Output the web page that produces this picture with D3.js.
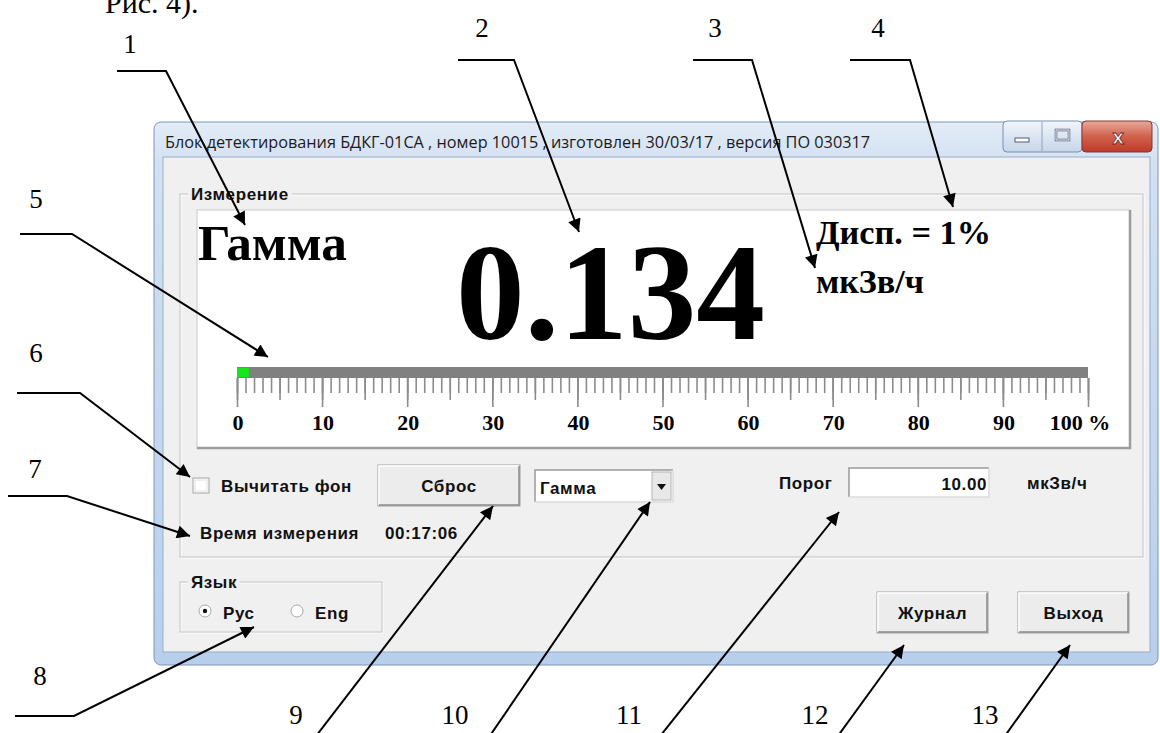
<!DOCTYPE html>
<html>
<head>
<meta charset="utf-8">
<script src="https://cdn.jsdelivr.net/npm/d3@7/dist/d3.min.js"></script>
<style>
  html, body { margin: 0; padding: 0; background: #fff; }
  svg { display: block; }
</style>
</head>
<body>
<div id="chart"></div>
<script>
// values
const windowTitle = "Блок детектирования БДКГ-01СА , номер 10015 , изготовлен 30/03/17 , версия ПО 030317";
const modeName = "Гамма";
const doseValue = "0.134";
const doseUnit = "мкЗв/ч";
const dispersionText = "Дисп. = 1%";
const levelPercent = 1.4;
const scaleMajor = [0, 10, 20, 30, 40, 50, 60, 70, 80, 90, 100];
const scaleLabels = ["0", "10", "20", "30", "40", "50", "60", "70", "80", "90", "100 %"];
const thresholdValue = "10.00";
const elapsedTime = "00:17:06";
const calloutNumbers = ["1", "2", "3", "4", "5", "6", "7", "8", "9", "10", "11", "12", "13"];

const W = 1160, H = 733;
const serif = "'Liberation Serif', 'Times New Roman', serif";
const sans = "'Liberation Sans', Arial, sans-serif";
const ctrlSize = 17, ctrlSpacing = 0.6;

let svg = d3.select("#chart").append("svg")
    .attr("width", W).attr("height", H);

let defs = svg.append("defs");
let frameGrad = defs.append("linearGradient").attr("id", "frame").attr("x1", 0).attr("y1", 0).attr("x2", 0).attr("y2", 1);
frameGrad.append("stop").attr("offset", "0").attr("stop-color", "#e3ecf7");
frameGrad.append("stop").attr("offset", "0.08").attr("stop-color", "#d2e0f2");
frameGrad.append("stop").attr("offset", "1").attr("stop-color", "#b8cfeb");
let btnGrad = defs.append("linearGradient").attr("id", "capbtn").attr("x1", 0).attr("y1", 0).attr("x2", 0).attr("y2", 1);
btnGrad.append("stop").attr("offset", "0").attr("stop-color", "#f2f6fb");
btnGrad.append("stop").attr("offset", "0.5").attr("stop-color", "#dbe5f2");
btnGrad.append("stop").attr("offset", "1").attr("stop-color", "#c6d5ea");
let closeGrad = defs.append("linearGradient").attr("id", "closebtn").attr("x1", 0).attr("y1", 0).attr("x2", 0).attr("y2", 1);
closeGrad.append("stop").attr("offset", "0").attr("stop-color", "#e9a99b");
closeGrad.append("stop").attr("offset", "0.5").attr("stop-color", "#d0614c");
closeGrad.append("stop").attr("offset", "1").attr("stop-color", "#c0392b");
defs.append("marker").attr("id", "arrow")
    .attr("viewBox", "0 0 10 10").attr("refX", 10).attr("refY", 5)
    .attr("markerUnits", "userSpaceOnUse")
    .attr("markerWidth", 17).attr("markerHeight", 13)
    .attr("orient", "auto")
  .append("path").attr("d", "M0,0 L10,5 L0,10 Z").attr("fill", "#000");

svg.append("rect").attr("width", W).attr("height", H).attr("fill", "#fff");

// caption of the document above the screenshot
svg.append("text").attr("x", 105).attr("y", 13)
    .attr("font-family", serif).attr("font-size", 30)
    .text("Рис. 4).");

// ---- helpers ----
function fitWidth(sel, target) {
    let node = sel.node();
    let len = node.getComputedTextLength();
    let fs = parseFloat(sel.attr("font-size"));
    if (len > 0) sel.attr("font-size", (fs * target / len).toFixed(2));
}

function ctrlText(g, x, y, str, anchor) {
    return g.append("text").attr("x", x).attr("y", y).attr("text-anchor", anchor || "start")
        .attr("font-family", sans).attr("font-weight", "bold").attr("font-size", ctrlSize)
        .attr("letter-spacing", ctrlSpacing).attr("fill", "#111")
        .text(str);
}

function groupBox(g, x, y, w, h, label) {
    g.append("rect").attr("x", x + 1).attr("y", y + 1).attr("width", w).attr("height", h)
        .attr("fill", "none").attr("stroke", "#fff");
    g.append("rect").attr("x", x).attr("y", y).attr("width", w).attr("height", h)
        .attr("fill", "none").attr("stroke", "#c4c4c4");
    let bg = g.append("rect").attr("x", x + 8).attr("y", y - 9).attr("height", 18)
        .attr("fill", "#f0f0f0");
    let t = ctrlText(g, x + 11, y + 6, label);
    bg.attr("width", t.node().getComputedTextLength() + 6);
}

function button(g, x, y, w, h, label) {
    g.append("rect").attr("x", x).attr("y", y).attr("width", w).attr("height", h)
        .attr("fill", "#ececec").attr("stroke", "#a0a0a0");
    g.append("path").attr("d", `M${x + 1},${y + h - 1} V${y + 1} H${x + w - 1}`)
        .attr("fill", "none").attr("stroke", "#fff").attr("stroke-width", 1.5);
    g.append("path").attr("d", `M${x + 1},${y + h - 1} H${x + w - 1} V${y + 1}`)
        .attr("fill", "none").attr("stroke", "#8a8a8a").attr("stroke-width", 1.5);
    ctrlText(g, x + w / 2, y + h / 2 + 6, label, "middle");
}

function sunken(g, x, y, w, h) {
    g.append("rect").attr("x", x).attr("y", y).attr("width", w).attr("height", h).attr("fill", "#fff");
    g.append("path").attr("d", `M${x},${y + h} V${y} H${x + w}`)
        .attr("fill", "none").attr("stroke", "#9a9a9a").attr("stroke-width", 1.5);
    g.append("path").attr("d", `M${x},${y + h} H${x + w} V${y}`)
        .attr("fill", "none").attr("stroke", "#dcdcdc").attr("stroke-width", 1.5);
}

// ---- window frame ----
let win = svg.append("g");
win.append("rect").attr("x", 154).attr("y", 122).attr("width", 1004).attr("height", 543)
    .attr("rx", 7).attr("fill", "url(#frame)").attr("stroke", "#7d97b8");
win.append("rect").attr("x", 163).attr("y", 157).attr("width", 987).attr("height", 495)
    .attr("fill", "#f0f0f0").attr("stroke", "#97add0");

win.append("text").attr("x", 165).attr("y", 148)
    .attr("font-family", "'Open Sans', 'DejaVu Sans', sans-serif").attr("font-size", 14)
    .attr("fill", "#1b1b1b")
    .text(windowTitle)
    .call(fitWidth, 705);

// caption buttons
let caps = win.append("g");
caps.append("rect").attr("x", 1003).attr("y", 121).attr("width", 79).attr("height", 31).attr("rx", 4)
    .attr("fill", "url(#capbtn)").attr("stroke", "#7a8fae");
caps.append("line").attr("x1", 1042).attr("x2", 1042).attr("y1", 122).attr("y2", 151).attr("stroke", "#8da2bf");
caps.append("rect").attr("x", 1082).attr("y", 121).attr("width", 70).attr("height", 31).attr("rx", 4)
    .attr("fill", "url(#closebtn)").attr("stroke", "#7c3b31");
caps.append("rect").attr("x", 1015).attr("y", 138).attr("width", 14).attr("height", 4)
    .attr("fill", "#fff").attr("stroke", "#4d5d78");
caps.append("rect").attr("x", 1056).attr("y", 130).attr("width", 13).attr("height", 10)
    .attr("fill", "none").attr("stroke", "#4d5d78").attr("stroke-width", 2.5);
caps.append("rect").attr("x", 1056).attr("y", 130).attr("width", 13).attr("height", 10)
    .attr("fill", "none").attr("stroke", "#fff").attr("stroke-width", 1);
caps.append("text").attr("x", 1118).attr("y", 144).attr("text-anchor", "middle")
    .attr("font-family", sans).attr("font-weight", "bold").attr("font-size", 21)
    .attr("fill", "#fff").attr("stroke", "#6a2a22").attr("stroke-width", 0.8)
    .text("x");

// ---- measurement group ----
let meas = svg.append("g");
groupBox(meas, 180, 194, 963, 363, "Измерение");

// display panel
meas.append("rect").attr("x", 197).attr("y", 210).attr("width", 933).attr("height", 238)
    .attr("fill", "#fff").attr("stroke", "#c8c8c8");
meas.append("path").attr("d", "M197,448 H1130 V210")
    .attr("fill", "none").attr("stroke", "#9c9c9c").attr("stroke-width", 2.5);

meas.append("text").attr("x", 198).attr("y", 260)
    .attr("font-family", serif).attr("font-weight", "bold").attr("font-size", 50)
    .text(modeName).call(fitWidth, 149);
meas.append("text").attr("x", 456).attr("y", 339)
    .attr("font-family", serif).attr("font-weight", "bold").attr("font-size", 138)
    .text(doseValue).call(fitWidth, 309);
meas.append("text").attr("x", 816).attr("y", 244)
    .attr("font-family", serif).attr("font-weight", "bold").attr("font-size", 34)
    .text(dispersionText).call(fitWidth, 175);
meas.append("text").attr("x", 816).attr("y", 293)
    .attr("font-family", serif).attr("font-weight", "bold").attr("font-size", 34)
    .text(doseUnit).call(fitWidth, 108);

// level bar and its scale
let xScale = d3.scaleLinear().domain([0, 100]).range([237, 1088]);
meas.append("rect").attr("x", xScale(0)).attr("y", 367)
    .attr("width", xScale(100) - xScale(0)).attr("height", 11).attr("fill", "#808080");
meas.append("rect").attr("x", xScale(0)).attr("y", 368)
    .attr("width", xScale(levelPercent) - xScale(0)).attr("height", 9).attr("fill", "#19e619");

[[xScale.ticks(100), 15], [xScale.ticks(20), 22], [scaleMajor, 29]].forEach(([vals, len]) => {
    let ax = meas.append("g").attr("transform", "translate(0,378)")
        .call(d3.axisBottom(xScale).tickValues(vals).tickSize(len).tickFormat(""));
    ax.select(".domain").remove();
    ax.selectAll(".tick line").attr("stroke", "#8c8c8c").attr("stroke-width", 1.6);
});

meas.selectAll(".scaleLabel").data(scaleMajor).enter().append("text")
    .attr("class", "scaleLabel")
    .attr("x", d => xScale(d) + (d === 100 ? -8 : 1))
    .attr("y", 430)
    .attr("text-anchor", "middle")
    .attr("font-family", serif).attr("font-weight", "bold").attr("font-size", 22)
    .text((d, i) => scaleLabels[i]);

// controls row
meas.append("rect").attr("x", 193).attr("y", 478).attr("width", 16).attr("height", 15)
    .attr("fill", "#fff").attr("stroke", "#a3a3a3");
meas.append("rect").attr("x", 195).attr("y", 480).attr("width", 12).attr("height", 11)
    .attr("fill", "none").attr("stroke", "#e2e2e2");
ctrlText(meas, 221, 492, "Вычитать фон");

button(meas, 378, 465, 142, 41, "Сброс");

sunken(meas, 535, 470, 138, 32);
meas.append("rect").attr("x", 652).attr("y", 472).attr("width", 19).attr("height", 28)
    .attr("fill", "#e8e8e8").attr("stroke", "#b4b4b4");
meas.append("path").attr("d", "M657,484 L666,484 L661.5,490 Z").attr("fill", "#111");
ctrlText(meas, 540, 494, modeName);

ctrlText(meas, 779, 489, "Порог");
sunken(meas, 849, 468, 140, 29);
ctrlText(meas, 987, 490, thresholdValue, "end");
ctrlText(meas, 1027, 489, doseUnit);

ctrlText(meas, 200, 539, "Время измерения");
ctrlText(meas, 385, 539, elapsedTime);

// ---- language group and bottom buttons ----
let lang = svg.append("g");
groupBox(lang, 180, 582, 202, 50, "Язык");
[[205, "Рус", true], [297, "Eng", false]].forEach(([cx, label, on]) => {
    lang.append("circle").attr("cx", cx).attr("cy", 611).attr("r", 6)
        .attr("fill", "#fff").attr("stroke", "#a8a8a8");
    if (on) lang.append("circle").attr("cx", cx).attr("cy", 611).attr("r", 2.2).attr("fill", "#111");
    ctrlText(lang, cx + 18, 619, label);
});

button(lang, 877, 592, 111, 41, "Журнал");
button(lang, 1018, 592, 111, 41, "Выход");

// ---- callouts ----
const calloutLayout = [
    { lx: 130, ly: 53,  pts: [[117, 71], [166, 71], [245, 225]] },
    { lx: 482, ly: 37,  pts: [[458, 60], [514, 60], [579, 232]] },
    { lx: 715, ly: 37,  pts: [[693, 60], [752, 60], [815, 268]] },
    { lx: 878, ly: 37,  pts: [[850, 60], [910, 60], [953, 207]] },
    { lx: 36,  ly: 208, pts: [[20, 234], [72, 234], [268, 357]] },
    { lx: 36,  ly: 362, pts: [[17, 393], [80, 393], [190, 477]] },
    { lx: 35,  ly: 478, pts: [[8, 496], [67, 496], [190, 536]] },
    { lx: 40,  ly: 685, pts: [[15, 716], [74, 716], [254, 627]] },
    { lx: 296, ly: 724, pts: [[313, 740], [493, 506]] },
    { lx: 455, ly: 724, pts: [[487, 740], [650, 502]] },
    { lx: 629, ly: 724, pts: [[657, 740], [839, 512]] },
    { lx: 815, ly: 724, pts: [[835, 740], [904, 645]] },
    { lx: 985, ly: 724, pts: [[1002, 740], [1070, 645]] }
];

let line = d3.line();
let callouts = svg.append("g").selectAll("g").data(calloutLayout).enter().append("g");
callouts.append("path")
    .attr("d", d => line(d.pts))
    .attr("fill", "none").attr("stroke", "#000").attr("stroke-width", 2)
    .attr("marker-end", "url(#arrow)");
callouts.append("text")
    .attr("x", d => d.lx).attr("y", d => d.ly)
    .attr("text-anchor", "middle")
    .attr("font-family", serif).attr("font-size", 27)
    .text((d, i) => calloutNumbers[i]);
</script>
</body>
</html>
